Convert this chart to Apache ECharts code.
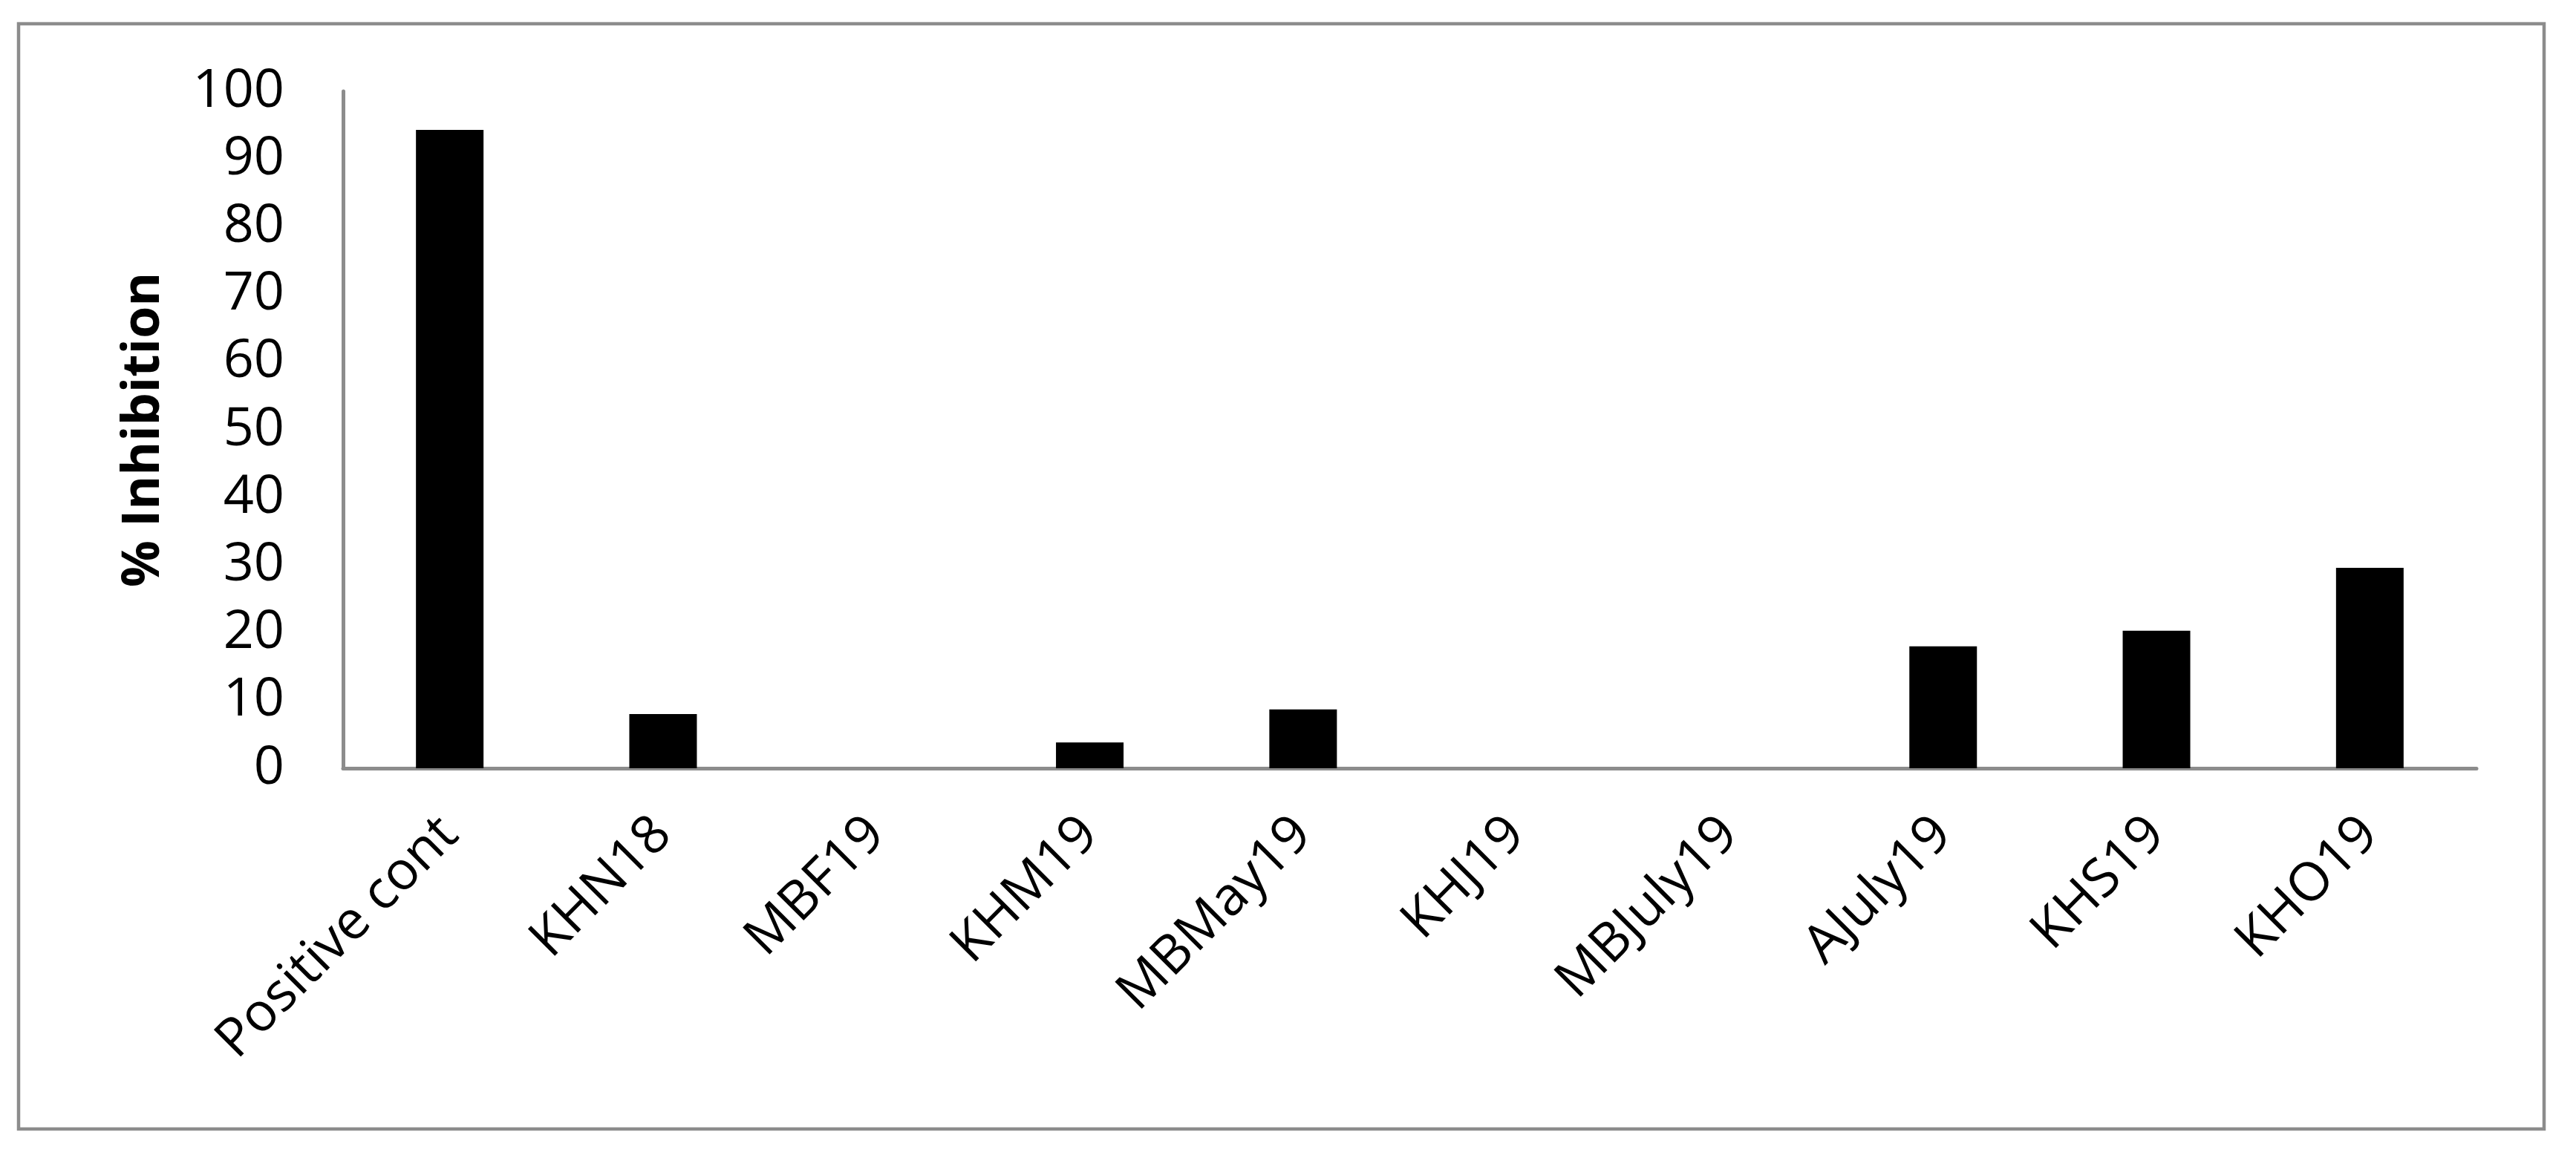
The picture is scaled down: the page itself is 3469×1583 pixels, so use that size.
<!DOCTYPE html>
<html>
<head>
<meta charset="utf-8">
<script src="https://cdn.jsdelivr.net/npm/echarts@6/dist/echarts.min.js"></script>
<style>html,body{margin:0;padding:0;background:#fff;}#c{width:3469px;height:1583px;}</style>
</head>
<body>
<div id="c"></div>
<script>
const categories = ['Positive cont','KHN18','MBF19','KHM19','MBMay19','KHJ19','MBJuly19','AJuly19','KHS19','KHO19'];
const inhibition = [94.3, 8.0, 0, 3.8, 8.7, 0, 0, 18.0, 20.3, 29.6];
const yTicks = {min: 0, max: 100, interval: 10};
const yName = '% Inhibition';

const chart = echarts.init(document.getElementById('c'));
chart.setOption({
  animation: false,
  backgroundColor: '#ffffff',
  graphic: [{
    type: 'rect',
    shape: {x: 25, y: 32, width: 3401, height: 1489},
    style: {fill: 'none', stroke: '#8c8c8c', lineWidth: 4.5},
    silent: true
  }],
  grid: {left: 462, right: 134, top: 123, bottom: 548, containLabel: false},
  xAxis: {
    type: 'category',
    data: categories,
    axisLine: {show: true, lineStyle: {color: '#8c8c8c', width: 5}},
    axisTick: {show: false},
    axisLabel: {
      interval: 0, rotate: 45, margin: 78,
      fontFamily: 'Open Sans', fontSize: 72, color: '#000'
    },
    splitLine: {show: false}
  },
  yAxis: {
    type: 'value',
    min: yTicks.min, max: yTicks.max, interval: yTicks.interval,
    name: yName,
    nameLocation: 'middle',
    nameRotate: 90,
    nameGap: 233,
    nameTextStyle: {fontFamily: 'Open Sans', fontSize: 70, fontWeight: 'bold', color: '#000'},
    axisLine: {show: true, lineStyle: {color: '#8c8c8c', width: 5}},
    axisTick: {show: false},
    axisLabel: {margin: 79, fontFamily: 'Open Sans', fontSize: 72, color: '#000'},
    splitLine: {show: false}
  },
  series: [{
    type: 'bar',
    data: inhibition,
    barWidth: 91,
    itemStyle: {color: '#000'}
  }]
});
</script>
</body>
</html>
